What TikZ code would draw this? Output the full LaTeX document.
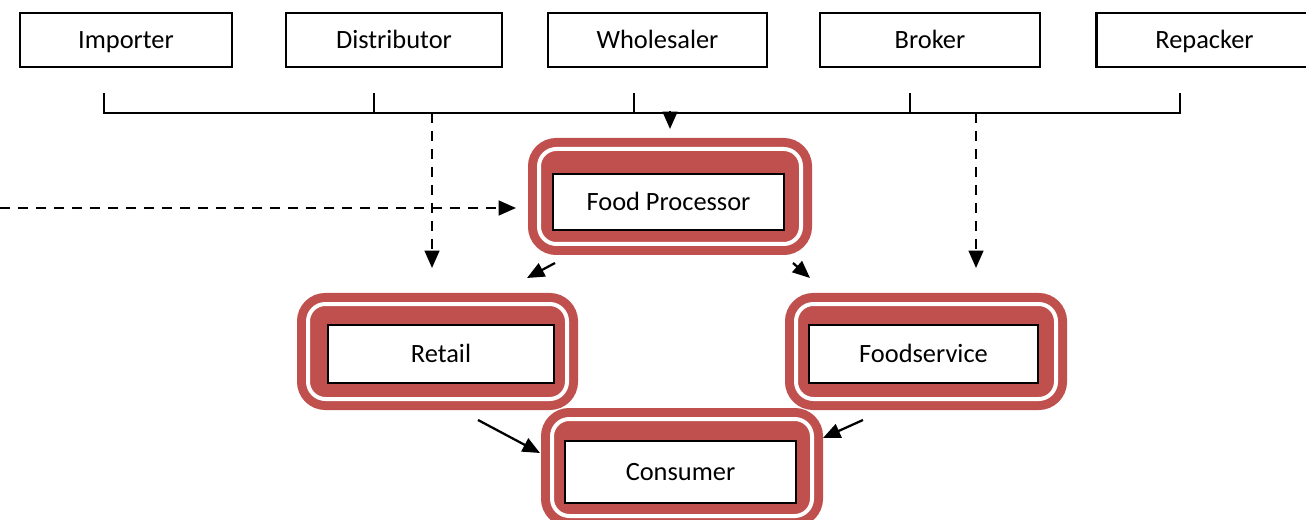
\documentclass[tikz,border=0pt]{standalone}
\usepackage{fontspec}
\setmainfont{Carlito}
\usetikzlibrary{arrows.meta}
\definecolor{accred}{HTML}{C0504D}
\tikzset{
  boxtext/.style={font=\fontsize{19.8}{23}\selectfont, text height=14pt, text depth=1.4pt},
  topbox/.style={draw=black, line width=1.6pt, fill=white, minimum height=40.5pt, inner sep=0pt, boxtext},
  innerbox/.style={draw=black, line width=1.6pt, fill=white, inner sep=0pt, boxtext},
  frame/.style={draw=accred, fill=accred, line width=6.75pt, double=white, double distance=3pt, rounded corners=13pt, inner sep=0pt},
  conn/.style={line width=1.7pt, -{Triangle[length=13pt,width=11pt]}},
  dconn/.style={conn, dash pattern=on 7.5pt off 6pt},
  plain/.style={line width=1.6pt}
}
\begin{document}
\begin{tikzpicture}[x=0.75pt, y=-0.75pt]
\useasboundingbox (0,0) rectangle (1306,520);
\clip (0,0) rectangle (1306,520);
% top row
\node[topbox, minimum width=159pt] (imp) at (126,40) {Importer};
\node[topbox, minimum width=162pt] (dist) at (394,40) {Distributor};
\node[topbox, minimum width=164.25pt] (whole) at (657.5,40) {Wholesaler};
\node[topbox, minimum width=165pt] (brok) at (930,40) {Broker};
\node[topbox, minimum width=162pt] (rep) at (1204.5,40) {Repacker};
% bracket
\coordinate (t1) at (104,93);
\coordinate (t2) at (374,93);
\coordinate (t3) at (634,93);
\coordinate (t4) at (910,93);
\coordinate (t5) at (1180,93);
\coordinate (bl) at (104,113);
\coordinate (br) at (1180,113);
\draw[plain] (t1) -- (bl) -- (br) -- (t5);
\draw[plain] (t2) -- (374,113);
\draw[plain] (t3) -- (634,113);
\draw[plain] (t4) -- (910,113);
% frames
\node[frame, minimum width=196.5pt, minimum height=71.25pt] (fpf) at (670,196.5) {};
\node[frame, minimum width=194.25pt, minimum height=71.25pt] (retf) at (437.5,351.5) {};
\node[frame, minimum width=195pt, minimum height=71.25pt] (fsf) at (926,351.5) {};
\node[frame, minimum width=195pt, minimum height=72.75pt] (conf) at (682,467.5) {};
% inner boxes
\node[innerbox, minimum width=173.25pt, minimum height=42pt] (fp) at (668.5,202) {Food Processor};
\node[innerbox, minimum width=169.5pt, minimum height=43.5pt] (ret) at (441,354) {Retail};
\node[innerbox, minimum width=171.75pt, minimum height=43.5pt] (fs) at (923.5,354) {Foodservice};
\node[innerbox, minimum width=173.25pt, minimum height=46.5pt] (con) at (680.5,472) {Consumer};
% arrows
\coordinate (mid) at (670,111);
\coordinate (midt) at (670,129);
\draw[conn] (mid) -- (midt);
\coordinate (d1s) at (432,113);
\coordinate (d1e) at (432,268);
\coordinate (d2s) at (976,113);
\coordinate (d2e) at (976,268);
\draw[dconn] (d1s) -- (d1e);
\draw[dconn] (d2s) -- (d2e);
\coordinate (ls) at (0,208);
\coordinate (le) at (516,208);
\draw[dconn] (ls) -- (le);
\coordinate (a1s) at (555,263);
\coordinate (a1e) at (527,278);
\coordinate (a2s) at (793,263);
\coordinate (a2e) at (810,278);
\coordinate (a3s) at (478,420);
\coordinate (a3e) at (540,453);
\coordinate (a4s) at (863,420);
\coordinate (a4e) at (823,438);
\draw[conn] (a1s) -- (a1e);
\draw[conn] (a2s) -- (a2e);
\draw[conn] (a3s) -- (a3e);
\draw[conn] (a4s) -- (a4e);
\end{tikzpicture}
\end{document}
